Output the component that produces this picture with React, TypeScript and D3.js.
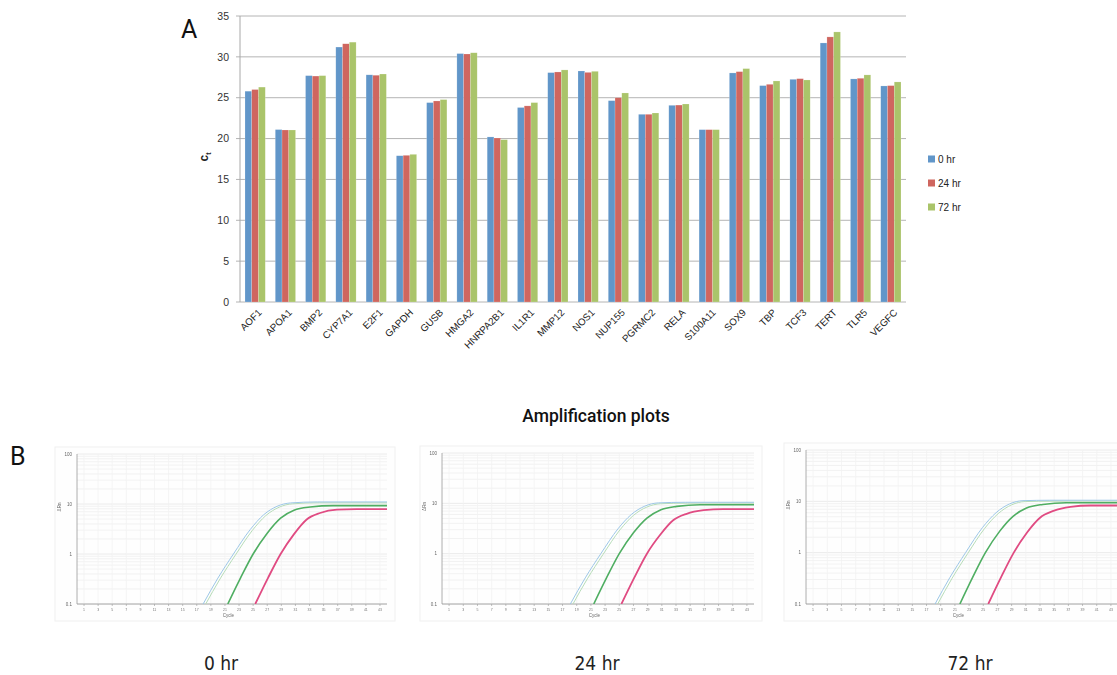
import React from 'react';
import * as d3 from 'd3';

// Panel A: Ct values per gene
const genes = ['AOF1', 'APOA1', 'BMP2', 'CYP7A1', 'E2F1', 'GAPDH', 'GUSB', 'HMGA2', 'HNRPA2B1', 'IL1R1', 'MMP12',
  'NOS1', 'NUP155', 'PGRMC2', 'RELA', 'S100A11', 'SOX9', 'TBP', 'TCF3', 'TERT', 'TLR5', 'VEGFC'];
const seriesNames = ['0 hr', '24 hr', '72 hr'];
const ct0 = [25.8, 21.1, 27.7, 31.2, 27.8, 17.9, 24.4, 30.4, 20.2, 23.8, 28.07, 28.27, 24.64, 22.97, 24.07, 21.09, 28.03, 26.48, 27.25, 31.7, 27.3, 26.44];
const ct24 = [26.0, 21.05, 27.65, 31.6, 27.75, 17.95, 24.6, 30.35, 20.07, 24.0, 28.15, 28.1, 25.0, 22.97, 24.1, 21.09, 28.19, 26.64, 27.33, 32.44, 27.38, 26.48];
const ct72 = [26.3, 21.05, 27.7, 31.8, 27.9, 18.07, 24.77, 30.5, 19.87, 24.4, 28.4, 28.23, 25.58, 23.13, 24.23, 21.09, 28.56, 27.05, 27.17, 33.05, 27.79, 26.93];
const yTicks = [0, 5, 10, 15, 20, 25, 30, 35];
const barColors = ['#6196c9', '#cf665f', '#aac46a'];

// Panel B: amplification curves, [cycle, ΔRn]
const plotLabels = ['0 hr', '24 hr', '72 hr'];
const blue0 = [[17.9, 0.1], [20.0, 0.33], [22.2, 1.0], [24.6, 3.1], [26.5, 6.1], [28.4, 9.0], [30.3, 10.5], [34.1, 11.0], [44, 11.0]];
const green0 = [[21.4, 0.1], [23.2, 0.33], [25.0, 1.0], [27.0, 2.6], [28.9, 5.2], [30.8, 7.5], [33.1, 8.7], [36.4, 9.3], [44, 9.3]];
const red0 = [[25.3, 0.1], [27.1, 0.33], [28.9, 1.0], [30.8, 2.5], [32.6, 4.9], [34.5, 6.6], [36.9, 7.7], [39.7, 7.9], [44, 7.9]];
const blue24 = [[18.1, 0.1], [20.2, 0.33], [22.4, 1.0], [24.8, 3.1], [26.7, 6.0], [28.6, 8.8], [30.5, 10.2], [34.3, 10.5], [44, 10.5]];
const green24 = [[21.4, 0.1], [23.2, 0.33], [25.0, 1.0], [27.0, 2.6], [28.9, 5.1], [30.8, 7.4], [33.1, 8.7], [36.4, 9.4], [44, 9.4]];
const red24 = [[25.3, 0.1], [27.1, 0.33], [28.9, 1.0], [30.8, 2.4], [32.6, 4.6], [34.5, 6.2], [36.9, 7.3], [39.7, 7.7], [44, 7.7]];
const blue72 = [[18.2, 0.1], [20.3, 0.33], [22.5, 1.0], [24.9, 3.1], [26.8, 6.0], [28.7, 8.9], [30.6, 10.3], [34.4, 10.5], [44, 10.5]];
const green72 = [[21.7, 0.1], [23.5, 0.33], [25.3, 1.0], [27.3, 2.6], [29.2, 5.1], [31.1, 7.4], [33.4, 8.7], [36.7, 9.4], [44, 9.4]];
const red72 = [[25.7, 0.1], [27.5, 0.33], [29.3, 1.0], [31.2, 2.5], [33.0, 4.8], [34.9, 6.5], [37.3, 7.8], [40.1, 8.3], [44, 8.3]];
const cycleTicks = d3.range(1, 44, 2);
const rnTicks = [0.1, 1, 10, 100];

const W = 1117, H = 675;
const font = '"Liberation Sans", Arial, sans-serif';

const BarPanel = () => {
  const x = d3.scaleBand<string>().domain(genes).range([240, 906]).paddingInner(0.33).paddingOuter(0.165);
  const xs = d3.scaleBand<string>().domain(seriesNames).range([0, x.bandwidth()]);
  const y = d3.scaleLinear().domain([0, 35]).range([302, 16]);
  const series = [ct0, ct24, ct72];
  return (
    <g>
      <text x={181} y={38} fontSize={25} fontFamily="Roboto, sans-serif" fill="#111">A</text>
      {yTicks.map(t => (
        <g key={t}>
          <line x1={236} x2={906} y1={y(t)} y2={y(t)} stroke="#b4b4b4" strokeWidth={1} />
          <text x={229} y={y(t)} dy="0.35em" textAnchor="end" fontSize={10.5} fontFamily={font} fill="#333">{t}</text>
        </g>
      ))}
      <line x1={240} x2={240} y1={16} y2={302} stroke="#a8a8a8" />
      {genes.map((g, i) => (
        <g key={g} transform={`translate(${x(g)},0)`}>
          {series.map((s, j) => (
            <rect key={j} x={xs(seriesNames[j])} width={xs.bandwidth()} y={y(s[i])} height={y(0) - y(s[i])}
              fill={barColors[j]} stroke="#ffffff" strokeOpacity={0.35} strokeWidth={0.5} />
          ))}
        </g>
      ))}
      {genes.map(g => {
        const cx = (x(g) as number) + x.bandwidth() / 2 + 3;
        return (
          <text key={g} transform={`translate(${cx},309) rotate(-45)`} textAnchor="end" dy="0.6em"
            fontSize={9.8} fontFamily={font} fill="#222">{g}</text>
        );
      })}
      <text transform="translate(208,157) rotate(-90)" textAnchor="middle" fontSize={12} fontWeight="bold" fontFamily={font} fill="#222">
        c<tspan fontSize={7} dy={3}>t</tspan>
      </text>
      {seriesNames.map((s, j) => (
        <g key={s} transform={`translate(928,${159 + j * 24})`}>
          <rect x={0} y={-3.5} width={7} height={7} fill={barColors[j]} />
          <text x={10} dy="0.35em" fontSize={10} fontFamily={font} fill="#222">{s}</text>
        </g>
      ))}
    </g>
  );
};

const AmpPlot = ({ left, top, bottom, right, curves, label, labelX }: any) => {
  const x = d3.scaleLinear().domain([0, 44]).range([left, right]);
  const y = d3.scaleLog().domain([0.1, 100]).range([bottom, top]);
  const line = d3.line<number[]>().x(d => x(d[0])).y(d => y(d[1])).curve(d3.curveMonotoneX);
  const minor: number[] = [];
  [0.1, 1, 10].forEach(b => d3.range(2, 10).forEach(k => minor.push(b * k)));
  const clipId = `clip-${label.replace(' ', '')}`;
  const colors = ['#b6dcb8', '#9cc7e6', '#4fae62', '#e04b82'];
  const widths = [1, 1, 1.6, 1.8];
  return (
    <g>
      <rect x={left - 22} y={top - 7} width={right - left + 30} height={bottom - top + 24} fill="#fefefe" stroke="#f0f0f0" />
      <clipPath id={clipId}>
        <rect x={left} y={top} width={right - left} height={bottom - top} />
      </clipPath>
      <g filter="url(#soft)">
        {minor.map(m => (
          <line key={m} x1={left} x2={right} y1={y(m)} y2={y(m)} stroke="#efefef" strokeWidth={0.8} />
        ))}
        {rnTicks.map(t => (
          <g key={t}>
            <line x1={left} x2={right} y1={y(t)} y2={y(t)} stroke="#e4e4e4" strokeWidth={0.8} />
            <text x={left - 5} y={y(t)} dy="0.35em" textAnchor="end" fontSize={4.5} fontFamily={font} fill="#666">{t}</text>
          </g>
        ))}
        {cycleTicks.map(t => (
          <g key={t}>
            <line x1={x(t)} x2={x(t)} y1={top} y2={bottom} stroke="#f3f3f3" strokeWidth={0.8} />
            <line x1={x(t)} x2={x(t)} y1={bottom} y2={bottom + 2} stroke="#999" strokeWidth={0.6} />
            <text x={x(t)} y={bottom + 7} textAnchor="middle" fontSize={3.5} fontFamily={font} fill="#777">{t}</text>
          </g>
        ))}
        <line x1={left} x2={left} y1={top} y2={bottom} stroke="#9a9a9a" strokeWidth={0.8} />
        <line x1={left} x2={right} y1={bottom} y2={bottom} stroke="#9a9a9a" strokeWidth={0.8} />
        <text x={x(21.5)} y={bottom + 13} textAnchor="middle" fontSize={4.5} fontFamily={font} fill="#666">Cycle</text>
        <text transform={`translate(${left - 16},${(top + bottom) / 2 - 22}) rotate(-90)`} textAnchor="middle" fontSize={4.5} fontFamily={font} fill="#666">ΔRn</text>
        <g clipPath={`url(#${clipId})`}>
          {curves.map((c: number[][], i: number) => (
            <path key={i} d={line(c) as string} fill="none" stroke={colors[i]} strokeWidth={widths[i]} />
          ))}
        </g>
      </g>
      <text x={labelX} y={670} textAnchor="middle" fontSize={19} fontFamily='"DejaVu Sans Condensed", "Liberation Sans Narrow", sans-serif' fontWeight={300} fill="#222">{label}</text>
    </g>
  );
};

const shift = (c: number[][], dx: number, f: number) => c.map(d => [d[0] + dx, d[1] * f]);

export default function App() {
  const plots = [
    { left: 77, top: 454, bottom: 604, right: 387, curves: [shift(blue0, 0.3, 0.96), blue0, green0, red0], labelX: 221 },
    { left: 442, top: 453, bottom: 604, right: 754, curves: [shift(blue24, 0.3, 0.96), blue24, green24, red24], labelX: 597 },
    { left: 806, top: 450, bottom: 604, right: 1118, curves: [shift(blue72, 0.3, 0.96), blue72, green72, red72], labelX: 970 },
  ];
  return (
    <div style={{ position: 'absolute', left: 0, top: 0 }}>
      <svg width={W} height={H} style={{ display: 'block', background: '#fff' }}>
        <defs>
          <filter id="soft" x="-5%" y="-5%" width="110%" height="110%">
            <feGaussianBlur stdDeviation={0.35} />
          </filter>
        </defs>
        <BarPanel />
        <text x={10} y={465} fontSize={25} fontFamily="Roboto, sans-serif" fill="#111">B</text>
        <text x={596} y={422} textAnchor="middle" fontSize={17.5} fontWeight={500} fontFamily="Roboto, sans-serif" fill="#111">Amplification plots</text>
        {plots.map((p, i) => (
          <AmpPlot key={i} {...p} label={plotLabels[i]} />
        ))}
      </svg>
    </div>
  );
}
